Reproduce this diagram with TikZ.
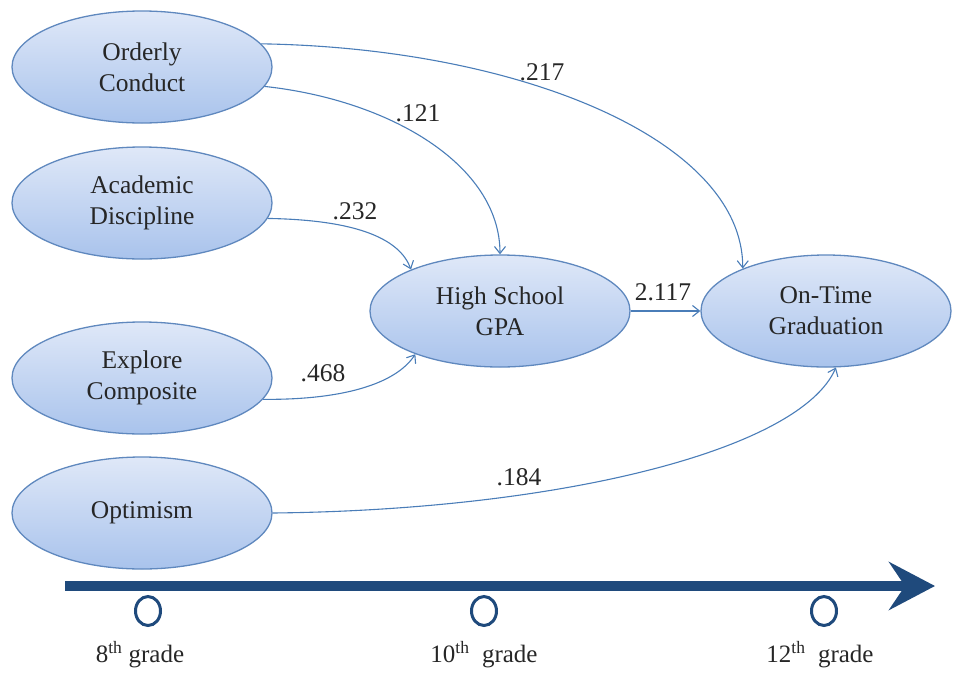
\documentclass[tikz,border=0pt]{standalone}
\usepackage{fontspec}
\setmainfont{Liberation Serif}
\usetikzlibrary{shapes.geometric,arrows.meta}
\definecolor{fillTop}{HTML}{DFE8F8}
\definecolor{fillBot}{HTML}{A9C3EC}
\definecolor{bord}{HTML}{5F88BE}
\definecolor{edgec}{HTML}{4A7DB8}
\definecolor{navy}{HTML}{1F4A7C}
\begin{document}
\begin{tikzpicture}[x=1pt,y=-1pt,
  var/.style={ellipse, draw=bord, line width=1.3pt, top color=fillTop, bottom color=fillBot,
    minimum width=260pt, minimum height=112pt, inner sep=0pt, align=center,
    font=\fontsize{25.5}{31}\selectfont, text=black!85},
  conn/.style={draw=edgec, line width=1.1pt, -{Straight Barb[length=7pt,width=11pt]}},
  coef/.style={font=\fontsize{25.5}{31}\selectfont, inner sep=0pt, text=black!85},
  grade/.style={font=\fontsize{25}{30}\selectfont, inner sep=0pt, text=black!85},
  tick/.style={draw=navy, line width=3pt, ellipse, minimum width=25pt, minimum height=29pt, inner sep=0pt}
]
\useasboundingbox (0,0) rectangle (954,673);

% variables
\node[var] (oc) at (142,67) {Orderly\\Conduct};
\node[var] (ad) at (142,203) {Academic\\Discipline};
\node[var] (ex) at (142,378) {Explore\\Composite};
\node[var] (op) at (142,513) {Optimism};
\node[var] (gpa) at (500,311) {High School\\GPA};
\node[var, minimum width=250pt] (grad) at (826,311) {On-Time\\Graduation};

% paths
\draw[conn] (oc.11) .. controls (520,48) and (743,140) .. (grad.153);
\draw[conn] (oc.-9.5) .. controls (390,100) and (500,165) .. (gpa.90);
\draw[conn] (ad.-7) .. controls (360,220) and (400,240) .. (gpa.155);
\draw[conn] (ex.-10) .. controls (340,400) and (395,385) .. (gpa.207);
\draw[conn] (gpa.0) -- (grad.180);
\draw[conn] (op.0) .. controls (560,510) and (800,450) .. (grad.-80);

% coefficients
\node[coef] (c1) at (542,72) {.217};
\node[coef] (c2) at (418,113) {.121};
\node[coef] (c3) at (355,211) {.232};
\node[coef] (c4) at (323,373) {.468};
\node[coef] (c5) at (663,292) {2.117};
\node[coef] (c6) at (519,477) {.184};

% timeline
\coordinate (tls) at (65,586);
\coordinate (tle) at (935,586);
\draw[navy, line width=10pt, -{Stealth[length=46pt,width=48pt,inset=16pt]}] (tls) -- (tle);
\node[tick] (t8) at (148,611) {};
\node[tick] (t10) at (484,611) {};
\node[tick] (t12) at (824,611) {};
\node[grade] (g8) at (140,655) {8\textsuperscript{th} grade};
\node[grade] (g10) at (484,655) {10\textsuperscript{th}\ \ grade};
\node[grade] (g12) at (820,655) {12\textsuperscript{th}\ \ grade};
\end{tikzpicture}
\end{document}
